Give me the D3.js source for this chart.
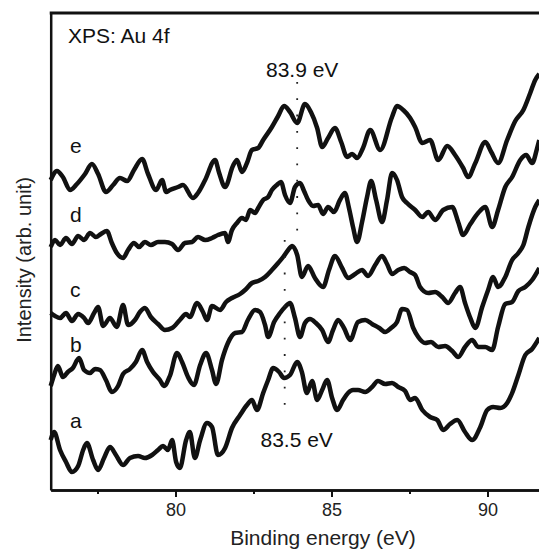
<!DOCTYPE html>
<meta charset="utf-8">
<head>
  <title>XPS Au 4f</title>
</head>
<style>
    body {
        margin: 0;
        background-color: #fff;
    }

    #chart {
        display: block;
        font-family: "Liberation Sans", Arial, sans-serif;
        overflow: hidden;
    }

    path.spec {
        fill: none;
        stroke: #111;
        stroke-width: 4.5px;
        stroke-linejoin: round;
    }

    .axis path.domain {
        stroke: #111;
        stroke-width: 2.5px;
    }

    .axis line {
        stroke: #111;
        stroke-width: 2px;
    }
</style>
<body>
    <svg id="chart" width="539" height="553"></svg>

    <script src="https://d3js.org/d3.v7.min.js"></script>

    <script>
        // binding energy (eV), intensity (arb. unit, curves already stacked)
        var specA = [[76.00,50],[76.11,58],[76.30,40],[76.49,28],[76.68,18],[76.88,24],[77.04,40],[77.16,47],[77.36,30],[77.52,20],
            [77.71,32],[77.90,43],[78.09,35],[78.32,25],[78.54,32],[78.80,34],[79.02,32],[79.25,35],[79.44,40],[79.60,44],
            [79.76,40],[79.89,50],[80.02,28],[80.14,22],[80.34,50],[80.46,58],[80.62,32],[80.79,50],[81.01,67],[81.17,63],
            [81.36,35],[81.59,42],[81.81,62],[82.07,75],[82.29,85],[82.45,90],[82.61,80],[82.81,97],[82.97,110],[83.13,122],
            [83.32,118],[83.48,112],[83.67,115],[83.90,128],[84.05,118],[84.21,97],[84.38,109],[84.54,90],[84.70,100],[84.86,110],
            [85.02,92],[85.18,80],[85.37,90],[85.53,97],[85.69,100],[85.85,100],[86.08,98],[86.30,103],[86.49,109],[86.72,106],
            [86.94,107],[87.14,103],[87.36,99],[87.52,90],[87.68,92],[87.91,80],[88.16,73],[88.39,70],[88.58,60],[88.80,66],
            [89.03,70],[89.28,58],[89.51,50],[89.77,63],[89.99,80],[90.18,83],[90.41,82],[90.63,87],[90.79,97],[90.99,115],
            [91.21,135],[91.43,141],[91.66,152]];

        var specB = [[76.00,104],[76.11,115],[76.23,124],[76.39,113],[76.55,118],[76.71,122],[76.91,132],[77.07,120],[77.26,117],[77.42,121],
            [77.58,120],[77.77,110],[77.96,98],[78.16,104],[78.32,116],[78.54,121],[78.73,128],[78.93,140],[79.09,128],[79.28,118],
            [79.50,110],[79.63,104],[79.82,114],[80.05,137],[80.21,128],[80.40,113],[80.59,105],[80.79,125],[80.98,137],[81.17,120],
            [81.30,106],[81.49,130],[81.68,147],[81.91,157],[82.13,158],[82.32,170],[82.55,180],[82.71,178],[82.87,165],[82.97,153],
            [83.16,168],[83.35,177],[83.51,183],[83.67,187],[83.83,172],[83.99,153],[84.15,167],[84.31,171],[84.50,167],[84.70,160],
            [84.89,148],[85.05,160],[85.21,170],[85.40,162],[85.60,150],[85.85,168],[86.08,170],[86.30,166],[86.53,162],[86.72,158],
            [86.91,162],[87.10,168],[87.26,181],[87.42,180],[87.62,162],[87.78,153],[88.00,147],[88.19,148],[88.42,143],[88.64,144],
            [88.87,139],[89.06,133],[89.28,143],[89.51,150],[89.70,143],[89.93,143],[90.15,140],[90.34,163],[90.57,186],[90.79,188],
            [90.99,199],[91.21,203],[91.43,210],[91.66,222]];

        var specC = [[76.00,177],[76.14,174],[76.30,172],[76.49,177],[76.68,169],[76.88,176],[77.07,172],[77.20,167],[77.39,177],[77.52,183],
            [77.68,164],[77.90,172],[78.12,163],[78.32,185],[78.48,165],[78.70,170],[78.86,178],[79.02,182],[79.21,173],[79.44,166],
            [79.66,160],[79.89,162],[80.14,170],[80.34,176],[80.46,173],[80.69,187],[80.88,178],[81.01,170],[81.17,184],[81.43,180],
            [81.62,188],[81.81,192],[82.07,196],[82.23,200],[82.45,207],[82.65,209],[82.87,213],[83.09,220],[83.29,227],[83.45,233],
            [83.61,240],[83.74,244],[83.90,235],[84.05,213],[84.25,224],[84.47,212],[84.73,203],[84.92,220],[85.11,234],[85.34,222],
            [85.53,212],[85.76,216],[85.98,220],[86.17,214],[86.40,225],[86.62,234],[86.78,226],[86.94,216],[87.14,220],[87.33,222],
            [87.52,218],[87.68,215],[87.84,203],[88.10,197],[88.32,198],[88.55,193],[88.74,187],[88.96,197],[89.12,203],[89.28,187],
            [89.45,172],[89.61,162],[89.83,183],[90.02,200],[90.18,213],[90.34,203],[90.57,213],[90.79,230],[90.99,237],[91.15,245],
            [91.31,263],[91.53,283],[91.66,290]];

        var specD = [[76.00,243],[76.14,250],[76.30,245],[76.49,252],[76.68,246],[76.88,254],[77.07,250],[77.26,257],[77.45,253],[77.61,256],
            [77.80,259],[77.96,247],[78.12,237],[78.32,232],[78.48,240],[78.67,247],[78.83,243],[79.02,248],[79.21,245],[79.44,248],
            [79.66,248],[79.89,246],[80.08,240],[80.30,247],[80.53,248],[80.72,253],[80.95,250],[81.17,252],[81.36,255],[81.59,257],
            [81.68,248],[81.81,260],[81.97,267],[82.13,272],[82.26,270],[82.39,280],[82.55,277],[82.65,282],[82.81,290],[82.97,293],
            [83.09,300],[83.25,305],[83.38,308],[83.51,295],[83.67,287],[83.83,303],[83.99,307],[84.12,299],[84.25,290],[84.41,284],
            [84.57,285],[84.73,276],[84.89,283],[85.08,278],[85.27,290],[85.43,297],[85.56,282],[85.69,263],[85.82,248],[85.98,268],
            [86.14,293],[86.27,309],[86.43,290],[86.62,268],[86.78,290],[86.94,317],[87.10,310],[87.26,293],[87.42,287],[87.68,280],
            [87.91,273],[88.10,278],[88.32,270],[88.58,280],[88.87,283],[89.06,268],[89.22,255],[89.45,266],[89.70,277],[89.93,283],
            [90.15,263],[90.34,280],[90.57,303],[90.79,313],[91.05,330],[91.24,335],[91.43,327],[91.60,343],[91.66,350]];

        var specE = [[76.00,310],[76.20,319],[76.39,313],[76.62,300],[76.84,306],[77.10,316],[77.32,326],[77.52,316],[77.77,298],[78.00,305],
            [78.22,312],[78.45,309],[78.67,320],[78.93,331],[79.12,316],[79.38,300],[79.57,310],[79.70,298],[79.82,300],[80.08,303],
            [80.24,305],[80.56,292],[80.72,297],[80.95,310],[81.27,330],[81.39,318],[81.59,303],[81.84,324],[81.97,330],[82.13,318],
            [82.29,327],[82.45,340],[82.65,342],[82.81,350],[83.09,363],[83.29,374],[83.48,384],[83.67,378],[83.90,367],[84.15,386],
            [84.34,378],[84.54,362],[84.70,343],[84.89,352],[85.11,362],[85.31,348],[85.50,333],[85.66,336],[85.82,332],[86.01,342],
            [86.24,360],[86.56,340],[86.94,373],[87.10,384],[87.30,380],[87.52,372],[87.68,363],[87.91,347],
            [88.16,350],[88.42,330],[88.71,344],[88.96,335],[89.22,322],[89.38,313],[89.61,327],[89.93,348],[90.12,338],[90.34,327],
            [90.63,350],[90.89,369],[91.15,380],[91.37,397],[91.53,410],[91.66,416]];

        var curveNames = ["a", "b", "c", "d", "e"];
        var peakEnergies = [83.9, 83.5];
        var peakTexts = ["83.9 eV", "83.5 eV"];
        var xTicks = [80, 85, 90];
        var xMinorTicks = [77.5, 82.5, 87.5];

        var width = 539,
            height = 553,
            left = 50.7,
            top_ = 13,
            bottom = 490;

        var svg = d3.select("#chart");

        var x = d3.scaleLinear()
            .domain([76, 92])
            .range([left, left + 16 * 31.2]);

        var y = d3.scaleLinear()
            .domain([0, 477])
            .range([bottom, top_]);

        var line = d3.line()
            .curve(d3.curveMonotoneX)
            .x(function(d) { return x(d[0]); })
            .y(function(d) { return y(d[1]); });

        // the spectra
        var spectra = [specA, specB, specC, specD, specE];
        svg.append("g")
            .selectAll("path")
            .data(spectra)
            .enter()
            .append("path")
            .attr("class", "spec")
            .attr("d", line);

        // dotted guides at the Au 4f7/2 positions
        var guides = [[82, 238], [240, 405]];
        svg.append("g")
            .selectAll("line")
            .data(peakEnergies)
            .enter()
            .append("line")
            .attr("x1", function(d) { return x(d); })
            .attr("x2", function(d) { return x(d); })
            .attr("y1", function(d, i) { return guides[i][0]; })
            .attr("y2", function(d, i) { return guides[i][1]; })
            .style("stroke", "#222")
            .style("stroke-width", 1.8)
            .style("stroke-dasharray", "1.8 14.5");

        // axes
        var xAxis = svg.append("g")
            .attr("class", "axis")
            .attr("transform", "translate(0," + bottom + ")")
            .call(d3.axisBottom(x).tickValues(xTicks).tickSize(7).tickSizeOuter(0).tickPadding(6));

        xAxis.selectAll("text")
            .style("font-size", "18px")
            .style("font-family", "Liberation Sans, Arial, sans-serif")
            .style("fill", "#222");

        svg.append("g")
            .attr("class", "axis")
            .attr("transform", "translate(0," + bottom + ")")
            .call(d3.axisBottom(x).tickValues(xMinorTicks).tickSize(4).tickSizeOuter(0).tickFormat(""));

        svg.append("g")
            .attr("class", "axis")
            .attr("transform", "translate(" + left + ",0)")
            .call(d3.axisLeft(y).tickValues([]).tickSizeOuter(0));

        svg.append("line")
            .attr("x1", left - 1)
            .attr("x2", width)
            .attr("y1", top_)
            .attr("y2", top_)
            .style("stroke", "#111")
            .style("stroke-width", 3);

        // texts
        svg.append("text")
            .attr("x", 323)
            .attr("y", 545)
            .attr("text-anchor", "middle")
            .style("font-size", "21px")
            .style("fill", "#222")
            .text("Binding energy (eV)");

        svg.append("text")
            .attr("transform", "translate(31,260) rotate(-90)")
            .attr("text-anchor", "middle")
            .style("font-size", "20px")
            .style("fill", "#222")
            .text("Intensity (arb. unit)");

        svg.append("text")
            .attr("x", 68)
            .attr("y", 43)
            .style("font-size", "21px")
            .style("fill", "#111")
            .text("XPS: Au 4f");

        var peakPos = [[5, 77], [12, 447]];
        svg.append("g")
            .selectAll("text")
            .data(peakEnergies)
            .enter()
            .append("text")
            .attr("x", function(d, i) { return x(d) + peakPos[i][0]; })
            .attr("y", function(d, i) { return peakPos[i][1]; })
            .attr("text-anchor", "middle")
            .style("font-size", "21px")
            .style("fill", "#111")
            .text(function(d, i) { return peakTexts[i]; });

        var nameY = [428, 352, 297, 222, 153];
        svg.append("g")
            .selectAll("text")
            .data(curveNames)
            .enter()
            .append("text")
            .attr("x", 70)
            .attr("y", function(d, i) { return nameY[i]; })
            .style("font-size", "21px")
            .style("fill", "#111")
            .text(function(d) { return d; });
    </script>
</body>
